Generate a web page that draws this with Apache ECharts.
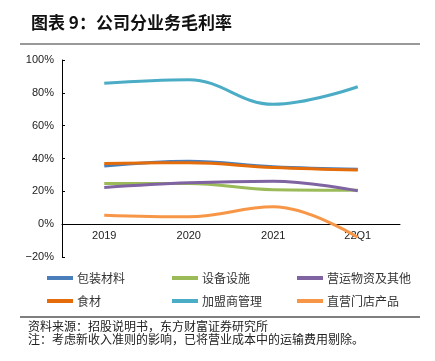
<!DOCTYPE html>
<html><head><meta charset="utf-8">
<script src="https://cdn.jsdelivr.net/npm/echarts@6/dist/echarts.min.js"></script>
<style>html,body{margin:0;padding:0;background:#fff}#c{width:435px;height:361px}</style>
</head><body><div id="c"></div>
<script>
const categories = ['2019', '2020', '2021', '22Q1'];
const yTicks = [-20, 0, 20, 40, 60, 80, 100];
const packaging = [35.4, 38.4, 35.0, 33.5];
const equipment = [24.8, 24.8, 21.0, 20.7];
const supplies = [22.4, 25.2, 26.2, 20.3];
const food = [37.0, 37.4, 34.5, 33.0];
const franchise = [85.8, 88.0, 73.0, 83.7];
const directStore = [5.5, 4.5, 10.6, -8.0];
const seriesNames = ['包装材料', '设备设施', '营运物资及其他', '食材', '加盟商管理', '直营门店产品'];
const seriesData = [packaging, equipment, supplies, food, franchise, directStore];
const colors = ['#4a7ebb', '#9bbb59', '#8064a2', '#e46c0a', '#4bacc6', '#f79646'];

const font = '"Noto Sans CJK SC", "Noto Sans", sans-serif';
const gridTop = 60, gridBottom = 104, H = 361;
const yMin = yTicks[0], yMax = yTicks[yTicks.length - 1];
const plotH = H - gridTop - gridBottom;
const zeroOffset = plotH * (0 - yMin) / (yMax - yMin);

const legendPos = [[47, 272], [172, 272], [297, 272], [47, 295], [172, 295], [297, 295]];
const legends = seriesNames.map((n, i) => ({
  data: [n], left: legendPos[i][0], top: legendPos[i][1],
  icon: 'rect', itemWidth: 26, itemHeight: 4, itemGap: 0,
  textStyle: { fontSize: 12, color: '#333', fontFamily: font, padding: [0, 0, 0, -1] },
  padding: 0
}));
const order = [0, 1, 2, 4, 5, 3];
const chart = echarts.init(document.getElementById('c'));
chart.setOption({
  animation: false,
  color: colors,
  textStyle: { fontFamily: font },
  grid: { left: 62, right: 35, top: gridTop, bottom: gridBottom },
  legend: legends,
  xAxis: {
    type: 'category', data: categories, boundaryGap: true,
    offset: -zeroOffset,
    axisLine: { onZero: false, lineStyle: { color: '#000', width: 1 } },
    axisTick: { inside: true, length: 4, lineStyle: { color: '#000' } },
    axisLabel: { color: '#222', fontSize: 11, margin: 6, fontFamily: 'Liberation Sans, Arial, sans-serif' }
  },
  yAxis: {
    type: 'value', min: yMin, max: yMax, interval: 20,
    axisLine: { show: true, lineStyle: { color: '#000', width: 1 } },
    axisTick: { show: true, inside: true, length: 3, lineStyle: { color: '#000' } },
    splitLine: { show: false },
    axisLabel: { color: '#222', fontSize: 11, margin: 8, formatter: v => (v < 0 ? '\u2212' + (-v) : v) + '%', fontFamily: 'Liberation Sans, Arial, sans-serif' }
  },
  series: order.map(i => ({
    name: seriesNames[i], type: 'line', data: seriesData[i], smooth: 0.4,
    showSymbol: false, symbol: 'none', color: colors[i],
    lineStyle: { width: 3, color: colors[i] }, z: 2 + order.indexOf(i)
  })),
  graphic: [
    { type: 'text', left: 31, top: 14, style: { text: '图表 9：公司分业务毛利率', font: 'bold 17px ' + font, fill: '#111' } },
    { type: 'rect', shape: { x: 20, y: 43, width: 400, height: 2 }, style: { fill: '#999' } },
    { type: 'rect', shape: { x: 20, y: 316.5, width: 400, height: 1 }, style: { fill: '#000' } },
    { type: 'text', left: 28, top: 320, style: { text: '资料来源：招股说明书，东方财富证券研究所', font: '12px ' + font, fill: '#222' } },
    { type: 'text', left: 28, top: 333, style: { text: '注：考虑新收入准则的影响，已将营业成本中的运输费用剔除。', font: '12px ' + font, fill: '#222' } }
  ]
});
</script></body></html>
